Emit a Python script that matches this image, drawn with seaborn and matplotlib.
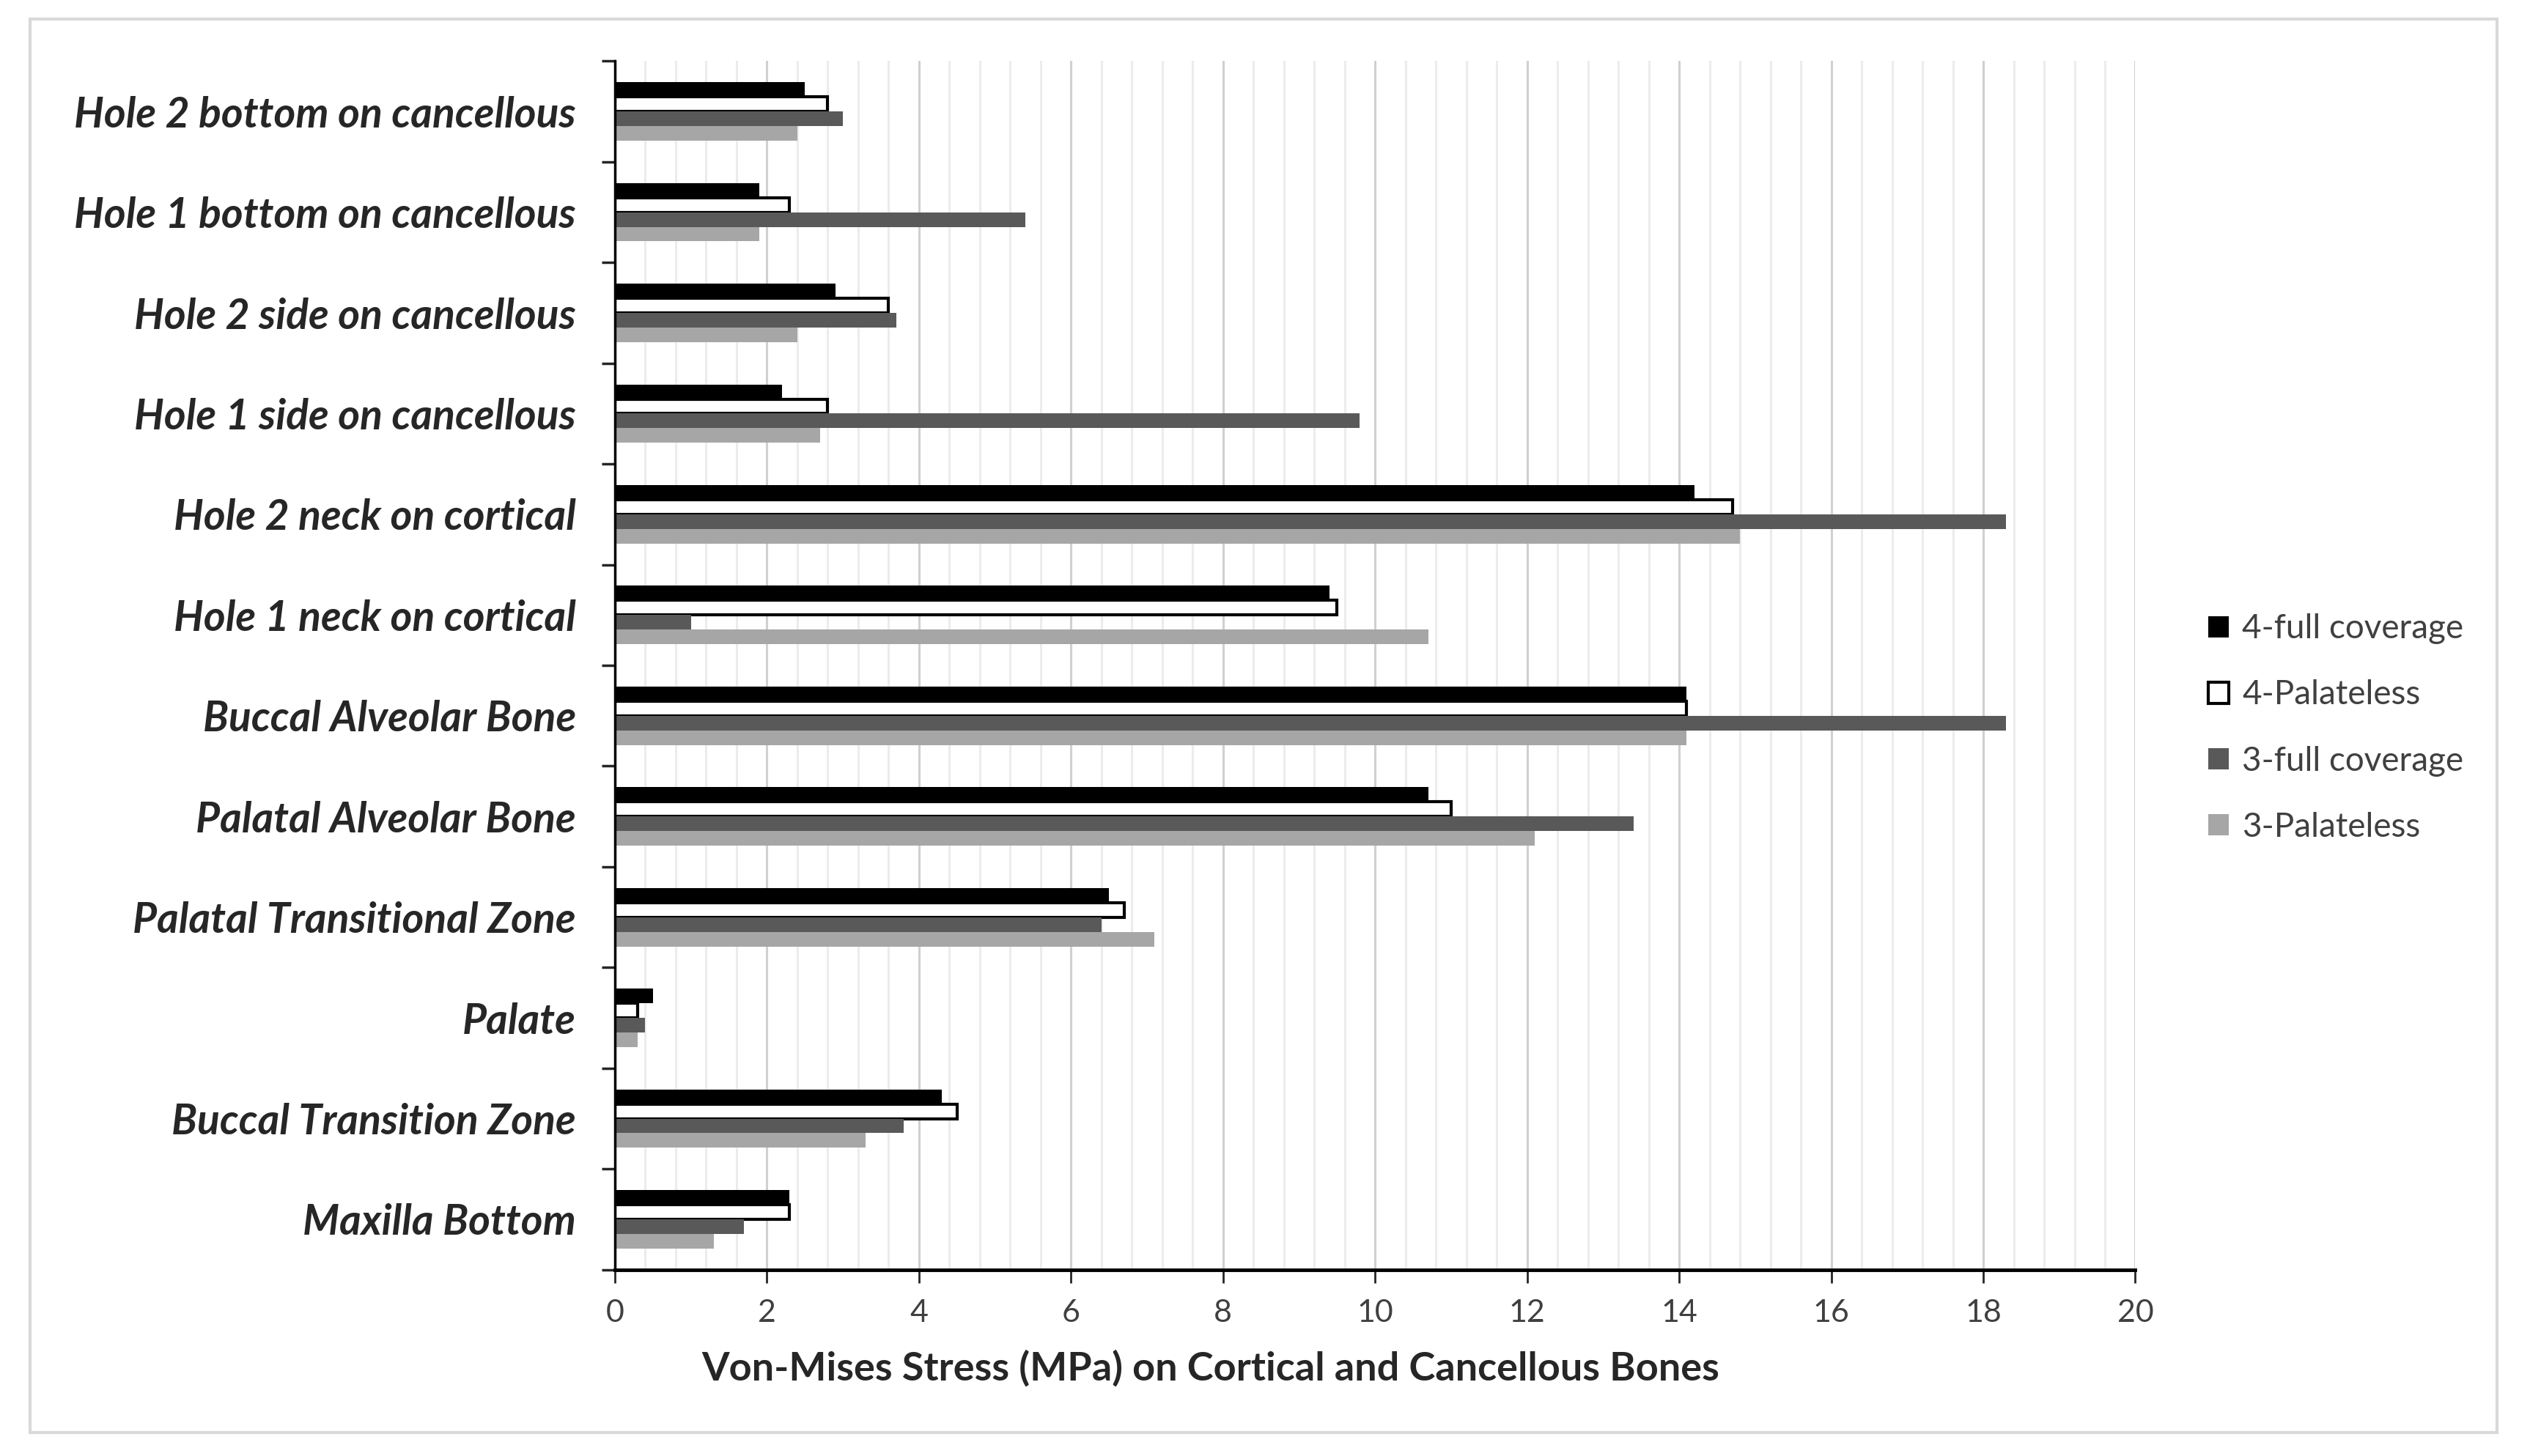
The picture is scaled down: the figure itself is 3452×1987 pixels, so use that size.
import matplotlib
matplotlib.use("Agg")
import matplotlib.pyplot as plt
from matplotlib.patches import Rectangle
from matplotlib.ticker import MultipleLocator, FixedLocator
import pandas as pd
import seaborn as sns

categories = [
    "Hole 2 bottom on cancellous",
    "Hole 1 bottom on cancellous",
    "Hole 2 side on cancellous",
    "Hole 1 side on cancellous",
    "Hole 2 neck on cortical",
    "Hole 1 neck on cortical",
    "Buccal Alveolar Bone",
    "Palatal Alveolar Bone",
    "Palatal Transitional Zone",
    "Palate",
    "Buccal Transition Zone",
    "Maxilla Bottom",
]
series = ["4-full coverage", "4-Palateless", "3-full coverage", "3-Palateless"]

full_4 = [2.5, 1.9, 2.9, 2.2, 14.2, 9.4, 14.1, 10.7, 6.5, 0.5, 4.3, 2.3]
palateless_4 = [2.8, 2.3, 3.6, 2.8, 14.7, 9.5, 14.1, 11.0, 6.7, 0.3, 4.5, 2.3]
full_3 = [3.0, 5.4, 3.7, 9.8, 18.3, 1.0, 18.3, 13.4, 6.4, 0.4, 3.8, 1.7]
palateless_3 = [2.4, 1.9, 2.4, 2.7, 14.8, 10.7, 14.1, 12.1, 7.1, 0.3, 3.3, 1.3]

colors = ["#000000", "#ffffff", "#595959", "#a6a6a6"]

rows = []
for name, vals in zip(series, [full_4, palateless_4, full_3, palateless_3]):
    for cat, v in zip(categories, vals):
        rows.append({"Region": cat, "Model": name, "Stress": v})
df = pd.DataFrame(rows)

sns.set_style("white")
plt.rcParams["font.family"] = ["Lato", "DejaVu Sans"]

fig = plt.figure(figsize=(34.52, 19.87), dpi=100)
ax = fig.add_axes([0.243, 0.128, 0.601, 0.830])

sns.barplot(
    data=df, x="Stress", y="Region", hue="Model",
    order=categories, hue_order=series, palette=colors,
    orient="h", width=0.58, linewidth=0, saturation=1, ax=ax,
)

# white series gets a black outline
for patch in ax.containers[1]:
    patch.set_edgecolor("black")
    patch.set_linewidth(3)

ax.set_xlim(0, 20)
ax.set_ylim(11.5, -0.5)
ax.xaxis.set_major_locator(MultipleLocator(2))
ax.xaxis.set_minor_locator(MultipleLocator(0.4))
ax.grid(True, axis="x", which="major", color="#d0d0d0", linewidth=2.2)
ax.grid(True, axis="x", which="minor", color="#ececec", linewidth=2.2)
ax.grid(False, axis="y")
ax.set_axisbelow(True)

ax.yaxis.set_minor_locator(FixedLocator([i - 0.5 for i in range(13)]))
ax.tick_params(axis="y", which="major", length=0, pad=38, labelsize=41)
ax.tick_params(axis="y", which="minor", length=13, width=2.5, direction="out", left=True)
ax.tick_params(axis="x", which="major", length=13, width=2, direction="out",
               bottom=True, pad=16, labelsize=31, labelcolor="#404040")
ax.tick_params(axis="x", which="minor", length=0)
for lbl in ax.get_yticklabels():
    lbl.set_fontweight("bold")
    lbl.set_fontstyle("italic")

for side in ["top", "right"]:
    ax.spines[side].set_visible(False)
ax.spines["left"].set_color("black")
ax.spines["left"].set_linewidth(2.5)
ax.spines["bottom"].set_color("black")
ax.spines["bottom"].set_linewidth(3.5)

ax.set_ylabel("")
ax.set_xlabel("Von-Mises Stress (MPa) on Cortical and Cancellous Bones",
              fontsize=39, fontweight="bold")
ax.xaxis.set_label_coords(0.392, -0.066)

handles, labels = ax.get_legend_handles_labels()
leg = ax.legend(handles, labels, loc="center left", bbox_to_anchor=(0.861, 0.5),
                bbox_transform=fig.transFigure, frameon=False, fontsize=33,
                handlelength=0.6, handleheight=0.6, handletextpad=0.4,
                labelspacing=1.05, labelcolor="#404040")
leg.legend_handles[1].set_edgecolor("black")
leg.legend_handles[1].set_linewidth(3)

fig.patches.append(Rectangle((0.012, 0.016), 0.975, 0.971, transform=fig.transFigure,
                             fill=False, edgecolor="#d9d9d9", linewidth=3))

fig.savefig("out.png", dpi=100, facecolor="white")
